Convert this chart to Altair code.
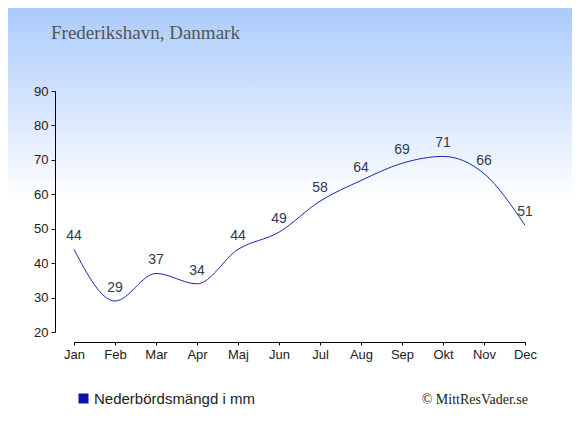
import altair as alt
import pandas as pd

months = ["Jan", "Feb", "Mar", "Apr", "Maj", "Jun", "Jul", "Aug", "Sep", "Okt", "Nov", "Dec"]
precip = [44, 29, 37, 34, 44, 49, 58, 64, 69, 71, 66, 51]
y_ticks = [20, 30, 40, 50, 60, 70, 80, 90]
series_name = "Nederbördsmängd i mm"
title_text = "Frederikshavn, Danmark"
credit_text = "© MittResVader.se"

df = pd.DataFrame({"month": months, "value": precip, "series": [series_name] * len(months)})

W, H = 451, 241
PAD = {"left": 66, "top": 83, "right": 47, "bottom": 95}
LINE_COLOR = "#1a28b4"

xenc = alt.X("month:N", sort=months,
             scale=alt.Scale(type="point", padding=0),
             axis=alt.Axis(title=None, labelAngle=0, offset=10, tickSize=3,
                           labelPadding=3, labelFontSize=13, labelFont="Liberation Sans",
                           labelColor="#222222", domainColor="#000000", tickColor="#000000",
                           grid=False, zindex=2, labelOverlap=False))
yenc = alt.Y("value:Q",
             scale=alt.Scale(domain=[20, 90], nice=False, zero=False),
             axis=alt.Axis(title=None, values=y_ticks, offset=19,
                           tickSize=4, labelPadding=3, labelFontSize=13,
                           labelFont="Liberation Sans", labelColor="#222222",
                           domainColor="#000000", tickColor="#000000", grid=False, zindex=2,
                           labelOverlap=False))

bg = alt.Chart(alt.Data(values=[{}])).mark_rect(
    fill=alt.Gradient(gradient="linear", x1=0, y1=0, x2=0, y2=1,
                      stops=[alt.GradientStop(color="#abcbfc", offset=0),
                             alt.GradientStop(color="#ffffff", offset=1)]),
    clip=False,
).encode(x=alt.value(-PAD["left"]), x2=alt.value(W + PAD["right"]),
         y=alt.value(-PAD["top"]), y2=alt.value(109))

line = alt.Chart(df).mark_line(interpolate="monotone", strokeWidth=1).encode(
    x=xenc, y=yenc,
    color=alt.Color("series:N", scale=alt.Scale(range=[LINE_COLOR]),
                    legend=alt.Legend(title=None, orient="none", legendX=2, legendY=300,
                                      symbolType="square", symbolSize=100,
                                      symbolFillColor="#0a14a8", symbolStrokeWidth=0,
                                      labelFontSize=15, labelFont="Liberation Sans",
                                      labelColor="#222222", labelOffset=3, padding=0,
                                      labelLimit=0, zindex=2)),
)

labels = alt.Chart(df).mark_text(dy=-9, baseline="alphabetic", fontSize=14,
                                 font="Liberation Sans", color="#2b3a55").encode(
    x=xenc, y=yenc, text="value:Q")

title = alt.Chart(alt.Data(values=[{"t": title_text}])).mark_text(
    align="left", baseline="alphabetic", font="Liberation Serif", fontSize=19, color="#555555"
).encode(x=alt.value(51 - 74), y=alt.value(39 - 91), text="t:N")

credit = alt.Chart(alt.Data(values=[{"t": credit_text}])).mark_text(
    align="right", baseline="alphabetic", font="Liberation Serif", fontSize=14, color="#222222"
).encode(x=alt.value(528 - 74), y=alt.value(404 - 91), text="t:N")

chart = alt.layer(bg, line, labels, title, credit).properties(
    width=W, height=H, padding=PAD, autosize=alt.AutoSizeParams(type="none"),
).configure_view(stroke=None)

chart.save("out.html", embed_options={"renderer": "svg", "actions": False})
